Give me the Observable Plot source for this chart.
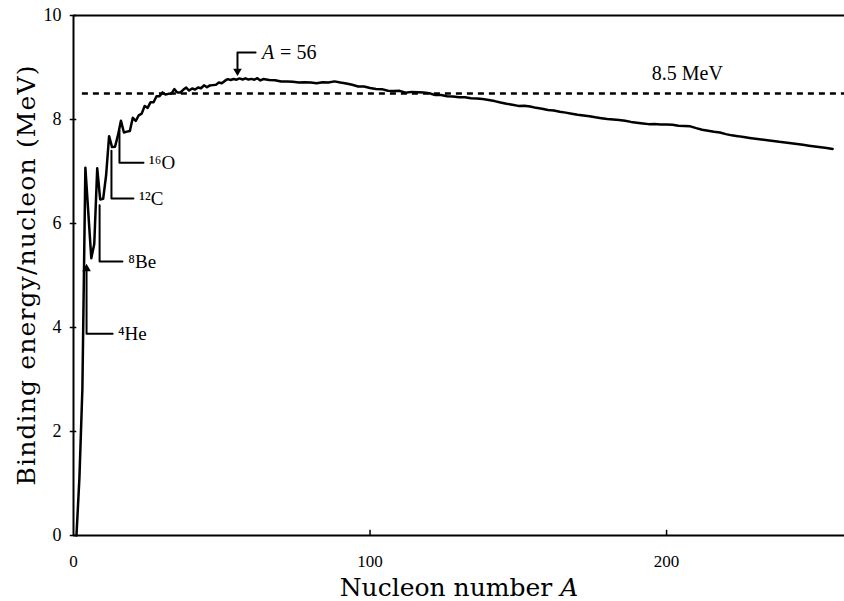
<!DOCTYPE html>
<html>
<head>
<meta charset="utf-8">
<script src="https://cdn.jsdelivr.net/npm/d3@7"></script>
<script src="https://cdn.jsdelivr.net/npm/@observablehq/plot@0.6"></script>
<style>
  body { margin: 0; background: #fff; }
  #chart svg { display: block; }
  #chart g[aria-label="y-axis label"] text { font-size: 25px; font-family: "DejaVu Serif", serif; }
  #chart g[aria-label="x-axis label"] text { font-size: 25px; font-family: "DejaVu Serif", serif; }
</style>
</head>
<body>
<div id="chart"></div>
<script>
// Mass number A and binding energy per nucleon (MeV) of the most stable isobar
const nucleonNumber = [
  1, 2, 3, 4, 6, 7, 8, 9, 10, 11, 12, 13, 14, 15, 16, 17, 18, 19, 20,
  21, 22, 23, 24, 25, 26, 27, 28, 29, 30, 31, 32, 33, 34, 35, 36, 37, 38, 39, 40,
  41, 42, 43, 44, 45, 46, 47, 48, 49, 50, 51, 52, 53, 54, 55, 56, 57, 58, 59, 60,
  61, 62, 63, 64, 66, 68, 70, 72, 74, 76, 78, 80, 82, 84, 86, 88, 90, 92, 94, 96,
  98, 100, 102, 104, 106, 108, 110, 112, 114, 116, 118, 120, 122, 124, 126, 128,
  130, 132, 134, 136, 138, 140, 142, 144, 146, 148, 150, 152, 154, 156, 158, 160,
  162, 164, 166, 168, 170, 172, 174, 176, 178, 180, 182, 184, 186, 188, 190, 192,
  194, 196, 198, 200, 202, 204, 206, 208, 210, 212, 214, 216, 218, 220, 222, 224,
  226, 228, 230, 232, 234, 236, 238, 240, 242, 244, 246, 248, 250, 252, 254, 256
];
const bindingPerNucleon = [
  0, 1.112, 2.827, 7.074, 5.332, 5.606, 7.062, 6.463, 6.475, 6.928, 7.680, 7.470, 7.476, 7.699, 7.976, 7.751, 7.767, 7.779, 8.032,
  7.972, 8.081, 8.112, 8.261, 8.224, 8.334, 8.332, 8.448, 8.449, 8.521, 8.481, 8.493, 8.498, 8.584, 8.520, 8.520, 8.570, 8.614, 8.557, 8.595,
  8.576, 8.616, 8.601, 8.658, 8.619, 8.656, 8.661, 8.666, 8.711, 8.696, 8.742, 8.776, 8.760, 8.778, 8.765, 8.790, 8.770, 8.792, 8.768, 8.781,
  8.765, 8.795, 8.752, 8.777, 8.760, 8.756, 8.730, 8.732, 8.725, 8.711, 8.718, 8.711, 8.696, 8.718, 8.712, 8.733, 8.710, 8.693, 8.667, 8.635,
  8.635, 8.605, 8.588, 8.584, 8.554, 8.550, 8.551, 8.514, 8.531, 8.523, 8.517, 8.505, 8.469, 8.473, 8.449, 8.443,
  8.430, 8.428, 8.408, 8.406, 8.393, 8.376, 8.354, 8.327, 8.304, 8.284, 8.262, 8.266, 8.250, 8.224, 8.208, 8.184,
  8.173, 8.150, 8.132, 8.111, 8.092, 8.076, 8.061, 8.042, 8.026, 8.011, 7.999, 7.989, 7.974, 7.954, 7.938, 7.924,
  7.911, 7.914, 7.904, 7.905, 7.897, 7.880, 7.875, 7.868, 7.834, 7.804, 7.785, 7.764, 7.749, 7.719, 7.695, 7.680,
  7.662, 7.646, 7.631, 7.615, 7.600, 7.587, 7.570, 7.557, 7.543, 7.527, 7.513, 7.497, 7.480, 7.465, 7.450, 7.434
];

const xTicks = [0, 100, 200];
const yTicks = [0, 2, 4, 6, 8, 10];
const referenceLevel = 8.5;

// Nuclide callouts: label, point on the curve, elbow level and end of the leader
const nuclideLabels = ["¹⁶O", "¹²C", "⁸Be", "⁴He"];
const nuclideTipA = [15.5, 12.8, 8.8, 4.4];
const nuclideTipBE = [7.79, 7.4, 6.35, 5.13];
const nuclideElbowBE = [7.17, 6.48, 5.27, 3.88];
const nuclideEndA = [23.6, 20.2, 16.5, 13.2];
const nuclideTextA = [25.5, 22.2, 18.5, 15.0];
const nuclideArrow = [false, false, false, true];

// Iron-peak callout
const peakTipA = 55.3, peakTipBE = 8.93, peakElbowBE = 9.29, peakEndA = 61.4, peakTextA = 63.6;
const referenceTextA = 207, referenceTextBE = 8.88;

const curve = nucleonNumber.map((A, i) => ({A, be: bindingPerNucleon[i]}));

const leaders = [];
nuclideLabels.forEach((label, i) => {
  leaders.push({label, A: nuclideEndA[i], be: nuclideElbowBE[i]});
  leaders.push({label, A: nuclideTipA[i], be: nuclideElbowBE[i]});
  leaders.push({label, A: nuclideTipA[i], be: nuclideTipBE[i]});
});
const nuclideText = nuclideLabels.map((label, i) => ({label, A: nuclideTextA[i], be: nuclideElbowBE[i]}));
const arrowTips = nuclideLabels
  .map((label, i) => ({label, A: nuclideTipA[i], be: nuclideTipBE[i], rot: 0}))
  .filter((d, i) => nuclideArrow[i]);
arrowTips.push({label: "A = 56", A: peakTipA, be: peakTipBE, rot: 180});
const peakLeader = [
  {A: peakEndA, be: peakElbowBE},
  {A: peakTipA, be: peakElbowBE},
  {A: peakTipA, be: peakTipBE + 0.05}
];

const serif = "Liberation Serif";

const chart = Plot.plot({
  width: 844,
  height: 601,
  marginLeft: 73,
  marginRight: 0,
  marginTop: 15,
  marginBottom: 66,
  x: {domain: [0, 260]},
  y: {domain: [0, 10]},
  style: {fontFamily: serif, background: "white", color: "black"},
  marks: [
    Plot.axisY(yTicks, {
      tickSize: 0, tickPadding: 12, fontSize: 18, tickFormat: d => String(d),
      label: "Binding energy/nucleon (MeV)", labelAnchor: "center", labelArrow: "none", labelOffset: 56
    }),
    Plot.axisX(xTicks, {
      tickSize: 0, tickPadding: 6, dy: 13, fontSize: 17, tickFormat: d => String(d),
      label: "Nucleon number A", labelAnchor: "center", labelArrow: "none", labelOffset: 60
    }),
    // frame
    Plot.ruleX([0], {strokeWidth: 2}),
    Plot.ruleY([0, 10], {strokeWidth: 2}),
    Plot.ruleY(yTicks, {x1: -1.1, x2: 1.1, strokeWidth: 1.5}),
    Plot.ruleX(xTicks.slice(1), {y1: 0, y2: 0.1, strokeWidth: 1.5}),
    // 8.5 MeV reference
    Plot.ruleY([referenceLevel], {x1: 3, x2: 260, strokeWidth: 2.4, strokeDasharray: "6,5"}),
    Plot.text([referenceLevel], {
      x: referenceTextA, y: referenceTextBE, text: () => "8.5 MeV",
      fontSize: 20, fontFamily: serif
    }),
    // binding energy curve
    Plot.line(curve, {x: "A", y: "be", strokeWidth: 2.5, strokeLinejoin: "round"}),
    // callouts
    Plot.line(leaders, {x: "A", y: "be", z: "label", strokeWidth: 2}),
    Plot.line(peakLeader, {x: "A", y: "be", strokeWidth: 2}),
    Plot.dot(arrowTips, {x: "A", y: "be", symbol: "triangle", r: 3.2, rotate: "rot", fill: "black", stroke: "none"}),
    Plot.text(nuclideText, {x: "A", y: "be", text: "label", textAnchor: "start", fontSize: 19, fontFamily: serif}),
    Plot.text([peakTextA], {
      x: peakTextA, y: peakElbowBE, text: () => "A", textAnchor: "start",
      fontSize: 20, fontStyle: "italic", fontFamily: serif
    }),
    Plot.text([peakTextA], {
      x: peakTextA, y: peakElbowBE, text: () => "= 56", textAnchor: "start", dx: 18,
      fontSize: 20, fontFamily: serif
    })
  ]
});

// axis titles: no direction arrows, italic A on the x title, y title stretched to the frame
const yl = chart.querySelector('g[aria-label="y-axis label"] text');
if (yl) {
  yl.textContent = "Binding energy/nucleon (MeV)";
  yl.setAttribute("textLength", 420);
  yl.setAttribute("lengthAdjust", "spacing");
}
const xl = chart.querySelector('g[aria-label="x-axis label"] text');
if (xl) {
  xl.textContent = "Nucleon number ";
  const t = document.createElementNS("http://www.w3.org/2000/svg", "tspan");
  t.setAttribute("font-style", "italic");
  t.textContent = "A";
  xl.appendChild(t);
}

document.getElementById("chart").appendChild(chart);
</script>
</body>
</html>
